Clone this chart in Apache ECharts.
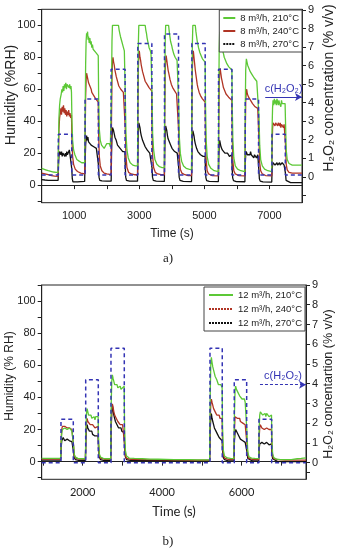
<!DOCTYPE html>
<html><head><meta charset="utf-8">
<script src="https://cdn.jsdelivr.net/npm/echarts@6/dist/echarts.min.js"></script>
<style>html,body{margin:0;padding:0;background:#fff}#c{width:342px;height:550px}</style>
</head><body><div id="c"></div>
<script>
// ---------- Chart a) 8 m3/h ----------
const topXLabels = [1000, 3000, 5000, 7000];
const topXTicks = [0, 1000, 2000, 3000, 4000, 5000, 6000, 7000, 8000];
const humLabels = [0, 20, 40, 60, 80, 100];
const humTicks = [-10, 0, 10, 20, 30, 40, 50, 60, 70, 80, 90, 100, 110];
const concLabels = [0, 1, 2, 3, 4, 5, 6, 7, 8, 9];
const concTicksTop = [-1, 0, 1, 2, 3, 4, 5, 6, 7, 8, 9];
const concTicksBot = [-0.5, 0, 1, 2, 3, 4, 5, 6, 7, 8, 9];

const c8Start = [512, 1333, 2133, 2954, 3774, 4615, 5435, 6256, 7077];
const c8End   = [923, 1742, 2563, 3385, 4205, 5025, 5846, 6665, 7487];
const c8Level = [2.3, 4.2, 5.8, 7.2, 7.7, 7.2, 5.8, 4.2, 2.3];
const c8Base = 0.1;
const arrowTop = {from: 6870, to: 8000, level: 4.3};

const g8 = [[0,10.5],[60,9.8],[120,9.6],[200,9],[280,8.6],[360,8.2],[440,8],[505,8],
[515,25],[530,42],[550,50],[570,54],[600,57],[620,60],[640,58],[660,62],[680,59],[700,63],[720,61],[740,64],[760,60],[780,63],[800,62],[820,64],[840,61],[860,63],[880,60],[900,62],[915,58],[930,40],[950,28],[980,22],[1020,19],[1080,16],[1150,15],[1230,14],[1320,14],
[1335,40],[1350,75],[1365,90],[1380,95],[1395,93],[1410,96],[1425,91],[1440,93],[1460,89],[1480,92],[1500,88],[1520,90],[1540,86],[1560,88],[1580,85],[1600,86],[1620,84],[1640,85],[1660,83],[1680,84],[1700,82],[1720,83],[1738,81],[1750,55],[1770,35],[1800,28],[1840,25],[1880,24],[1920,23],[1960,24],[2000,26],[2040,27],[2080,26],[2110,24],[2135,25],
[2145,60],[2160,90],[2175,100],[2360,100],[2380,97],[2400,95],[2420,93],[2440,94],[2460,90],[2480,89],[2500,87],[2520,86],[2540,84],[2558,83],[2570,55],[2590,32],[2620,22],[2660,17],[2720,14],[2800,12.5],[2880,12],[2945,12],
[2955,50],[2970,88],[2985,100],[3180,100],[3200,97],[3220,95],[3240,92],[3260,90],[3280,88],[3300,86],[3320,85],[3340,84],[3360,82],[3380,81],[3392,55],[3410,32],[3440,22],[3480,16],[3540,13],[3620,11.5],[3700,11],[3770,11],
[3780,50],[3795,88],[3810,100],[3900,100],[3920,96],[3940,93],[3960,90],[3980,89],[4000,87],[4020,85],[4040,84],[4060,82],[4080,81],[4100,80],[4120,79],[4140,80],[4160,78],[4180,77],[4200,77],[4212,50],[4230,30],[4260,20],[4300,15],[4360,12],[4440,10.5],[4520,10],[4605,9.5],
[4615,50],[4630,88],[4645,100],[4720,100],[4740,96],[4760,93],[4780,90],[4800,88],[4820,86],[4840,85],[4860,83],[4880,82],[4900,81],[4920,80],[4940,79],[4960,80],[4980,78],[5000,78],[5022,77],[5035,50],[5055,28],[5085,18],[5130,13],[5200,10.5],[5300,9],[5430,8.5],
[5440,50],[5455,85],[5470,96],[5490,94],[5510,90],[5530,88],[5550,85],[5570,84],[5590,82],[5610,80],[5630,79],[5650,78],[5670,77],[5690,76],[5710,77],[5730,75],[5750,74],[5770,75],[5790,73],[5810,74],[5845,72],[5858,48],[5875,28],[5905,17],[5950,12],[6020,10],[6120,9],[6245,8.5],
[6255,45],[6270,72],[6290,79],[6310,77],[6330,75],[6350,76],[6370,73],[6390,72],[6410,71],[6430,72],[6450,70],[6470,69],[6490,70],[6510,68],[6530,67],[6550,68],[6570,66],[6590,67],[6610,65],[6640,66],[6665,64],[6680,42],[6700,25],[6730,16],[6780,12],[6850,10],[6950,9],[7070,8.5],
[7080,35],[7095,48],[7110,53],[7130,50],[7150,54],[7170,51],[7190,53],[7210,50],[7230,54],[7250,52],[7270,50],[7290,53],[7310,51],[7330,52],[7350,49],[7370,53],[7390,51],[7410,50],[7430,52],[7450,50],[7480,51],[7495,38],[7515,22],[7545,16],[7600,13.5],[7700,12.5],[7800,12.5],[7900,12.5],[8000,12.5]];

const r8 = [[0,7.5],[100,7],[200,6.5],[300,6],[400,5.6],[505,5.5],
[515,20],[530,35],[550,42],[570,45],[590,48],[610,44],[630,49],[650,46],[670,50],[690,45],[710,48],[730,44],[750,47],[770,43],[790,46],[810,44],[830,47],[850,43],[870,45],[890,42],[915,44],[930,28],[950,18],[980,13],[1030,10],[1100,8.5],[1200,7.5],[1320,7],
[1335,30],[1350,55],[1365,66],[1380,70],[1400,68],[1420,66],[1440,64],[1460,65],[1480,62],[1500,61],[1520,60],[1540,58],[1560,59],[1580,57],[1600,56],[1620,57],[1640,55],[1660,54],[1680,55],[1700,53],[1720,54],[1738,52],[1750,32],[1770,18],[1800,12],[1850,9],[1920,7.5],[2000,7],[2135,6.5],
[2145,40],[2160,68],[2175,78],[2190,80],[2210,77],[2230,75],[2250,72],[2270,70],[2290,68],[2310,67],[2330,65],[2350,64],[2370,62],[2390,63],[2410,61],[2430,60],[2450,61],[2470,59],[2490,60],[2510,58],[2530,59],[2558,57],[2570,35],[2590,18],[2620,11],[2670,8],[2750,7],[2850,6.5],[2945,6.5],
[2955,40],[2970,72],[2985,82],[3000,84],[3020,80],[3040,78],[3060,75],[3080,73],[3100,71],[3120,70],[3140,68],[3160,67],[3180,65],[3200,66],[3220,64],[3240,63],[3260,62],[3280,63],[3300,61],[3320,62],[3340,60],[3380,59],[3392,35],[3410,18],[3440,11],[3490,8],[3570,7],[3670,6.5],[3770,6.5],
[3780,40],[3795,70],[3810,79],[3825,81],[3845,78],[3865,75],[3885,72],[3905,70],[3925,68],[3945,66],[3965,65],[3985,63],[4005,62],[4025,61],[4045,62],[4065,60],[4085,59],[4105,58],[4125,59],[4145,57],[4165,58],[4185,56],[4200,57],[4212,33],[4230,17],[4260,10],[4310,7.5],[4400,6.5],[4500,6],[4605,6],
[4615,40],[4630,72],[4645,82],[4660,84],[4680,80],[4700,76],[4720,72],[4740,69],[4760,66],[4780,63],[4800,61],[4820,60],[4840,58],[4860,57],[4880,56],[4900,57],[4920,55],[4940,54],[4960,55],[4980,53],[5000,54],[5022,52],[5035,30],[5055,15],[5085,9],[5130,7],[5230,6],[5430,5.8],
[5440,35],[5455,62],[5470,71],[5485,73],[5505,70],[5525,67],[5545,65],[5565,63],[5585,61],[5605,60],[5625,59],[5645,58],[5665,57],[5685,58],[5705,56],[5725,57],[5745,55],[5765,56],[5785,54],[5805,55],[5845,53],[5858,30],[5875,15],[5905,9],[5950,7],[6050,6],[6245,5.8],
[6255,30],[6270,52],[6285,58],[6300,60],[6320,57],[6340,56],[6360,55],[6380,54],[6400,55],[6420,53],[6440,52],[6460,53],[6480,51],[6500,52],[6520,50],[6540,51],[6560,49],[6580,50],[6600,48],[6620,49],[6640,48],[6665,47],[6680,27],[6700,14],[6730,9],[6780,7],[6880,6],[7070,5.8],
[7080,22],[7095,35],[7110,39],[7130,38],[7150,40],[7170,37],[7190,39],[7210,38],[7230,40],[7250,37],[7270,39],[7290,38],[7310,37],[7330,39],[7350,36],[7370,38],[7390,37],[7410,39],[7430,36],[7450,38],[7480,37],[7495,25],[7515,13],[7545,9.5],[7600,8],[7700,7.5],[7850,7.5],[8000,7.5]];

const k8 = [[0,3.5],[100,3.2],[200,3],[300,3],[400,3],[505,3],
[515,12],[530,18],[550,21],[570,20],[590,19],[610,21],[630,18],[650,20],[670,19],[690,21],[710,18],[730,20],[750,18],[770,21],[790,19],[810,20],[830,18],[850,22],[870,19],[890,20],[915,19],[925,10],[940,4],[960,2],[1000,1.8],[1100,2],[1200,2.2],[1320,2.3],
[1335,15],[1350,25],[1365,29],[1380,31],[1400,28],[1420,30],[1440,27],[1460,28],[1480,26],[1500,27],[1520,25],[1540,26],[1560,24],[1580,25],[1600,24],[1620,25],[1640,23],[1660,24],[1680,23],[1700,24],[1738,23],[1748,12],[1762,5],[1785,3],[1850,2.6],[2000,2.5],[2135,2.5],
[2145,18],[2160,30],[2175,36],[2190,37],[2210,34],[2230,32],[2250,30],[2270,29],[2290,28],[2310,27],[2330,25],[2350,26],[2370,24],[2390,25],[2410,23],[2430,24],[2450,22],[2470,23],[2490,21],[2510,22],[2530,20],[2558,21],[2568,12],[2582,5],[2605,3],[2700,2.5],[2945,2.5],
[2955,20],[2970,34],[2985,39],[3000,40],[3020,36],[3040,33],[3060,31],[3080,30],[3100,28],[3120,27],[3140,26],[3160,25],[3180,24],[3200,25],[3220,23],[3240,22],[3260,23],[3280,21],[3300,22],[3320,20],[3340,21],[3380,20],[3390,11],[3405,5],[3430,3],[3520,2.5],[3770,2.3],
[3780,20],[3795,33],[3810,37],[3825,38],[3845,34],[3865,31],[3885,29],[3905,28],[3925,27],[3945,26],[3965,25],[3985,24],[4005,23],[4025,24],[4045,22],[4065,23],[4085,21],[4105,22],[4125,20],[4145,21],[4165,20],[4185,21],[4200,20],[4210,11],[4225,5],[4250,3],[4350,2.3],[4605,2.2],
[4615,18],[4630,30],[4645,34],[4660,35],[4680,31],[4700,28],[4720,26],[4740,25],[4760,23],[4780,22],[4800,21],[4820,22],[4840,20],[4860,21],[4880,19],[4900,20],[4920,18],[4940,19],[4960,18],[4980,19],[5000,17],[5022,18],[5032,10],[5047,4.5],[5070,2.8],[5150,2.3],[5430,2.2],
[5440,16],[5455,25],[5470,28],[5490,26],[5510,24],[5530,23],[5550,22],[5570,23],[5590,21],[5610,22],[5630,20],[5650,21],[5670,20],[5690,19],[5710,20],[5730,19],[5750,20],[5770,18],[5790,19],[5810,18],[5845,19],[5855,10],[5870,4.5],[5895,2.8],[5980,2.2],[6245,2.1],
[6255,13],[6270,19],[6285,21],[6300,20],[6320,19],[6340,20],[6360,18],[6380,20],[6400,19],[6420,21],[6440,19],[6460,20],[6480,18],[6500,19],[6520,17],[6540,19],[6560,18],[6580,19],[6600,17],[6620,18],[6640,19],[6665,18],[6676,9],[6690,4],[6715,2.5],[6800,2],[7070,1.9],
[7080,9],[7095,12.5],[7110,14],[7130,13],[7150,14],[7170,12.5],[7190,13.5],[7210,13],[7230,14],[7250,12.5],[7270,13.5],[7290,13],[7310,14],[7330,12.5],[7350,13.5],[7370,13],[7390,14],[7410,13],[7430,13.5],[7450,12.5],[7485,13],[7495,7],[7510,3],[7540,1.8],[7650,1.6],[7800,1.5],[8000,1.5]];

// ---------- Chart b) 12 m3/h ----------
const botXLabels = [2000, 4000, 6000];
const botXTicks = [1000, 2000, 3000, 4000, 5000, 6000, 7000];
const c12Start = [1455, 2077, 2713, 5204, 5815, 6436];
const c12End   = [1765, 2394, 3048, 5513, 6127, 6756];
const c12Level = [2.2, 4.2, 5.8, 5.8, 4.2, 2.2];
const c12Base = 0;
const arrowBot = {from: 6462, to: 7620, level: 3.95};

const g12 = [[970,2],[1100,2],[1200,2],[1300,2],[1445,2],
[1460,12],[1475,18],[1490,20],[1510,21],[1530,19],[1550,21],[1570,20],[1590,22],[1610,20],[1630,21],[1650,19],[1670,21],[1690,20],[1710,21],[1730,19],[1760,20],[1772,10],[1790,4.5],[1820,2.8],[1880,2],[1960,1.8],[2070,1.8],
[2082,20],[2097,30],[2112,33],[2130,31],[2150,29],[2170,30],[2190,28],[2210,29],[2230,27],[2250,28],[2270,27],[2290,28],[2310,26],[2330,28],[2350,27],[2390,28],[2400,14],[2418,5],[2450,2.8],[2520,2],[2600,1.8],[2705,1.8],
[2718,35],[2733,50],[2748,54],[2765,52],[2785,50],[2805,48],[2825,49],[2845,47],[2865,48],[2885,46],[2905,47],[2925,46],[2945,47],[2965,45],[2985,46],[3005,45],[3045,47],[3055,22],[3075,7],[3105,3.5],[3170,2.2],[3300,2],[3500,1.8],[3700,1.6],[3900,1.5],[4100,1.4],[4300,1.3],[4500,1.2],[4700,1.2],[4900,1.1],[5100,1.1],[5195,1.1],
[5209,40],[5224,60],[5239,65],[5255,62],[5275,59],[5295,57],[5315,55],[5335,53],[5355,52],[5375,51],[5395,50],[5415,48],[5435,49],[5455,47],[5475,48],[5510,46],[5520,22],[5540,7],[5570,3.5],[5640,2.3],[5720,2],[5805,1.9],
[5820,30],[5835,44],[5850,47],[5870,45],[5890,44],[5910,43],[5930,42],[5950,41],[5970,42],[5990,40],[6010,39],[6030,40],[6050,38],[6070,39],[6090,37],[6125,38],[6135,18],[6155,6],[6185,3],[6250,2.2],[6330,2],[6430,1.9],
[6441,20],[6456,29],[6471,31],[6490,30],[6510,31],[6530,29],[6550,30],[6570,29],[6590,30],[6610,28],[6630,30],[6650,29],[6670,30],[6690,28],[6710,29],[6752,29],[6762,14],[6780,5],[6810,2.5],[6880,1.5],[6980,1.2],[7100,1.2],[7250,1.3],[7400,1.8],[7500,2],[7620,2.3]];

const r12 = [[970,1.6],[1200,1.6],[1445,1.6],
[1460,14],[1475,20],[1490,22],[1510,23],[1530,21],[1550,22],[1570,21],[1590,23],[1610,21],[1630,22],[1650,20],[1670,21],[1690,20],[1710,21],[1730,20],[1760,21],[1772,10],[1790,4],[1820,2.3],[1900,1.6],[2070,1.5],
[2082,16],[2097,24],[2112,27],[2130,25],[2150,24],[2170,25],[2190,23],[2210,24],[2230,22],[2250,23],[2270,22],[2290,23],[2310,21],[2330,22],[2350,21],[2390,22],[2400,11],[2418,4],[2450,2.2],[2550,1.5],[2705,1.4],
[2718,22],[2733,33],[2748,36],[2765,34],[2785,31],[2805,29],[2825,28],[2845,27],[2865,26],[2885,25],[2905,24],[2925,25],[2945,23],[2965,24],[2985,22],[3005,23],[3045,22],[3055,11],[3075,4],[3105,2],[3200,1.5],[3600,1.3],[4200,1.1],[4800,1],[5195,1],
[5209,25],[5224,36],[5239,39],[5255,37],[5275,35],[5295,33],[5315,32],[5335,31],[5355,30],[5375,29],[5395,30],[5415,28],[5435,29],[5455,27],[5475,28],[5510,27],[5520,13],[5540,4.5],[5570,2.2],[5650,1.5],[5805,1.3],
[5820,20],[5835,28],[5850,29],[5870,28],[5890,27],[5910,28],[5930,26],[5950,27],[5970,25],[5990,26],[6010,25],[6030,24],[6050,25],[6070,24],[6090,23],[6125,24],[6135,11],[6155,4],[6185,2],[6270,1.4],[6430,1.3],
[6441,15],[6456,21],[6471,23],[6490,22],[6510,21],[6530,22],[6550,21],[6570,20],[6590,21],[6610,20],[6630,21],[6650,20],[6670,21],[6690,20],[6710,21],[6752,20],[6762,9],[6780,3.5],[6810,1.8],[6900,1.2],[7100,1],[7400,1],[7620,1]];

const k12 = [[970,1],[1200,0.9],[1445,0.9],
[1460,9],[1475,13],[1490,14],[1510,15],[1530,14],[1550,13],[1570,14],[1590,13],[1610,14],[1630,13],[1650,14],[1670,13],[1690,12.5],[1710,13.5],[1730,12.5],[1760,13],[1772,6],[1790,2.5],[1820,1.2],[1900,0.8],[2070,0.7],
[2082,14],[2097,20],[2112,23],[2130,21],[2150,20],[2170,19],[2190,20],[2210,18],[2230,19],[2250,17],[2270,18],[2290,17],[2310,16],[2330,17],[2350,16],[2390,16],[2400,8],[2418,3],[2450,1.2],[2550,0.7],[2705,0.6],
[2718,20],[2733,31],[2748,35],[2765,32],[2785,29],[2805,27],[2825,25],[2845,24],[2865,23],[2885,22],[2905,21],[2925,22],[2945,20],[2965,21],[2985,19],[3005,20],[3045,18],[3055,9],[3075,3],[3105,1.3],[3200,0.8],[3600,0.7],[4200,0.6],[4800,0.5],[5195,0.5],
[5209,20],[5224,27],[5239,30],[5255,27],[5275,25],[5295,23],[5315,21],[5335,20],[5355,19],[5375,18],[5395,17],[5415,16],[5435,15],[5455,16],[5475,14],[5510,13],[5520,7],[5540,2.5],[5570,1.2],[5650,0.6],[5805,0.5],
[5820,13],[5835,18],[5850,20],[5870,19],[5890,18],[5910,17],[5930,16],[5950,15],[5970,14],[5990,15],[6010,14],[6030,13],[6050,14],[6070,13],[6090,12],[6125,12],[6135,6],[6155,2],[6185,0.9],[6270,0.5],[6430,0.4],
[6441,8],[6456,11],[6471,12],[6490,11],[6510,12],[6530,11],[6550,12],[6570,11],[6590,11.5],[6610,11],[6630,12],[6650,11],[6670,11.5],[6690,10.5],[6710,11],[6752,11],[6762,5],[6780,1.8],[6810,0.6],[6900,0.2],[7100,0],[7400,0],[7620,0]];

// ---------- build ----------
function steps(starts, ends, levels, base, x0, x1) {
  const p = [[x0, base]];
  for (let i = 0; i < starts.length; i++) {
    p.push([starts[i], base], [starts[i], levels[i]], [ends[i], levels[i]], [ends[i], base]);
  }
  p.push([x1, base]);
  return p;
}
const SANS = "'Liberation Sans', Arial, sans-serif";
const LATO = "Lato, 'Liberation Sans', sans-serif";
const SERIF = "'Liberation Serif', 'DejaVu Serif', serif";
const INK = '#222';
const GREEN = '#5cc836', RED = '#b03424', BLACK = '#111', BLUE = '#3434b4';
const plain = v => String(v);

function xAx(grid, min, max, ticks, labels, font) {
  return {gridIndex: grid, type: 'value', min, max,
    axisLine: {lineStyle: {color: INK, width: 1}},
    axisTick: {customValues: ticks, length: 4, lineStyle: {color: INK}},
    axisLabel: {customValues: labels, formatter: plain, color: INK, fontSize: 11, fontFamily: font, margin: 8},
    splitLine: {show: false}};
}
function yAx(grid, pos, min, max, ticks, labels) {
  return {gridIndex: grid, type: 'value', position: pos, min, max,
    axisLine: {show: true, lineStyle: {color: INK, width: 1}},
    axisTick: {show: true, customValues: ticks, length: 4, lineStyle: {color: INK}},
    axisLabel: {customValues: labels, formatter: plain, color: INK, fontSize: 11, fontFamily: SANS, margin: 6},
    splitLine: {show: false}};
}
function line(name, data, color, x, y, w) {
  return {name, type: 'line', data, xAxisIndex: x, yAxisIndex: y, symbol: 'none', showSymbol: false,
    lineStyle: {color, width: w || 1.3}, itemStyle: {color}, silent: true, z: 3};
}
function conc(name, data, x, y, arrow, dashedArrow) {
  return {name, type: 'line', data, xAxisIndex: x, yAxisIndex: y, symbol: 'none',
    lineStyle: {color: BLUE, width: 1.5, type: [4, 3]}, itemStyle: {color: BLUE}, z: 4, silent: true,
    markLine: {silent: true, symbol: ['none', 'arrow'], symbolSize: [6, 7],
      lineStyle: {color: BLUE, width: 1, type: dashedArrow ? [3, 2] : 'solid'},
      label: {show: true, position: 'middle', formatter: 'c(H₂O₂)', color: BLUE, fontSize: 11, fontFamily: SANS, distance: 3},
      data: [[{coord: [arrow.from, arrow.level]}, {coord: [arrow.to, arrow.level]}]]}};
}

const n8 = ['8 m³/h, 210°C', '8 m³/h, 240°C', '8 m³/h, 270°C'];
const n12 = ['12 m³/h, 210°C', '12 m³/h, 240°C', '12 m³/h, 270°C'];
const noSym = {color: 'rgba(0,0,0,0)', borderColor: 'rgba(0,0,0,0)', borderWidth: 0, opacity: 0};

const chart = echarts.init(document.getElementById('c'), null, {renderer: 'canvas'});
chart.setOption({
  animation: false,
  backgroundColor: '#fff',
  grid: [
    {left: 41.7, top: 9.3, width: 260.3, height: 193.4, show: true, borderColor: INK, borderWidth: 1, backgroundColor: 'transparent'},
    {left: 41.7, top: 285, width: 264.3, height: 194.3, show: true, borderColor: INK, borderWidth: 1, backgroundColor: 'transparent'}
  ],
  xAxis: [xAx(0, 0, 8000, topXTicks, topXLabels, SANS), xAx(1, 970, 7620, botXTicks, botXLabels, LATO)],
  yAxis: [
    yAx(0, 'left', -11, 110, humTicks, humLabels),
    yAx(0, 'right', -1.4, 9.04, concTicksTop, concLabels),
    yAx(1, 'left', -11, 110, humTicks, humLabels),
    yAx(1, 'right', -0.84, 9.0, concTicksBot, concLabels)
  ],
  legend: [
    {right: 40, top: 10, orient: 'vertical', padding: [3, 3, 3, 3], itemGap: 3, itemWidth: 12, itemHeight: 10,
     borderColor: '#444', borderWidth: 1, backgroundColor: '#fff', selectedMode: false, itemStyle: noSym,
     textStyle: {fontSize: 9.5, fontFamily: SANS, color: INK},
     data: [{name: n8[0]}, {name: n8[1]}, {name: n8[2], lineStyle: {type: [2, 1]}}]},
    {right: 37, top: 287, orient: 'vertical', padding: [3, 3, 3, 4], itemGap: 4, itemWidth: 24, itemHeight: 10,
     borderColor: '#444', borderWidth: 1, backgroundColor: '#fff', selectedMode: false, itemStyle: noSym,
     textStyle: {fontSize: 9.5, fontFamily: SANS, color: INK},
     data: [{name: n12[0]}, {name: n12[1], lineStyle: {type: [2, 1]}}, {name: n12[2], lineStyle: {type: [2, 1]}}]}
  ],
  series: [
    line(n8[2], k8, BLACK, 0, 0),
    line(n8[1], r8, RED, 0, 0),
    line(n8[0], g8, GREEN, 0, 0),
    conc('c8', steps(c8Start, c8End, c8Level, c8Base, 0, 8000), 0, 1, arrowTop, false),
    line(n12[2], k12, BLACK, 1, 2),
    line(n12[1], r12, RED, 1, 2),
    line(n12[0], g12, GREEN, 1, 2),
    conc('c12', steps(c12Start, c12End, c12Level, c12Base, 970, 7620), 1, 3, arrowBot, true)
  ],
  graphic: [
    {type: 'text', x: 11, y: 95, rotation: Math.PI / 2, style: {text: 'Humidity (%RH)', font: "14px " + SANS, fill: INK, align: 'center', verticalAlign: 'middle'}},
    {type: 'text', x: 329, y: 88, rotation: Math.PI / 2, style: {text: 'H₂O₂ concentration (% v/v)', font: "14px " + SANS, fill: INK, align: 'center', verticalAlign: 'middle'}},
    {type: 'text', x: 172, y: 234, style: {text: 'Time (s)', font: "12px " + SANS, fill: INK, align: 'center', verticalAlign: 'middle'}},
    {type: 'text', x: 168, y: 259, style: {text: 'a)', font: "13px " + SERIF, fill: INK, align: 'center', verticalAlign: 'middle'}},
    {type: 'text', x: 10, y: 376, rotation: Math.PI / 2, style: {text: 'Humidity (% RH)', font: "12px " + SANS, fill: INK, align: 'center', verticalAlign: 'middle'}},
    {type: 'text', x: 329, y: 384, rotation: Math.PI / 2, style: {text: 'H₂O₂ concentartion (% v/v)', font: "12.5px " + SANS, fill: INK, align: 'center', verticalAlign: 'middle'}},
    {type: 'text', x: 174, y: 512, style: {text: 'Time (s)', font: "13px " + LATO, fill: INK, align: 'center', verticalAlign: 'middle'}},
    {type: 'text', x: 168, y: 542, style: {text: 'b)', font: "13px " + SERIF, fill: INK, align: 'center', verticalAlign: 'middle'}}
  ]
});
</script></body></html>
